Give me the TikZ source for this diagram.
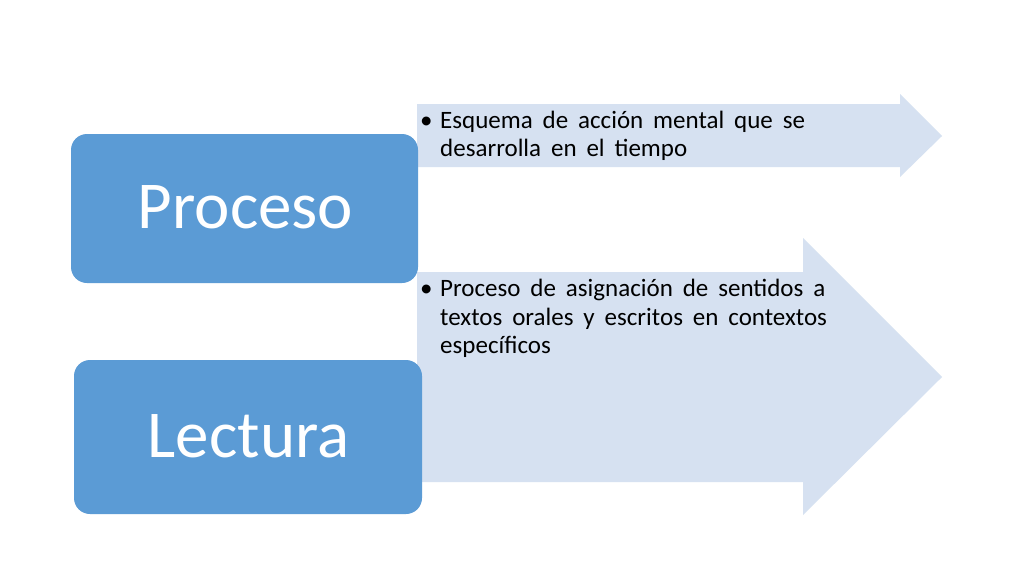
\documentclass[tikz,border=0pt]{standalone}
\usepackage{fontspec}
\setmainfont{Carlito}
\definecolor{boxblue}{HTML}{5B9BD5}
\definecolor{arrowfill}{HTML}{D6E1F1}
\newcommand{\bodyfont}{\fontsize{25}{28}\selectfont\spaceskip=9.9pt plus 0pt minus 0pt\relax}
\begin{document}
\begin{tikzpicture}[x=1pt,y=-1pt,
  catbox/.style={fill=boxblue,draw=none,rounded corners=16pt,inner sep=0pt},
  cattext/.style={text=white,font=\fontsize{67}{80}\selectfont,anchor=base,inner sep=0pt},
  bodytext/.style={text=black,font=\bodyfont,anchor=base west,inner sep=0pt},
  arrowshape/.style={fill=arrowfill,draw=none}]
\useasboundingbox (0,0) rectangle (1024,576);
\fill[white] (0,0) rectangle (1024,576);
% arrows
\fill[arrowshape] (417,104) -- (900,104) -- (900,94) -- (942,136) -- (900,177) -- (900,167) -- (417,167) -- cycle;
\fill[arrowshape] (417,272) -- (803,272) -- (803,238) -- (942,377) -- (803,515) -- (803,482) -- (417,482) -- cycle;
% boxes
\node[catbox,minimum width=347pt,minimum height=149pt] (proc) at (244.5,208.5) {};
\node[catbox,minimum width=348pt,minimum height=154pt] (lect) at (248,437) {};
\node[cattext] (proct) at (245.5,228) {Proceso};
\node[cattext] (lectt) at (248.5,457) {Lectura};
% text arrow 1
\node[bodytext] (b1) at (420,128) {•};
\node[bodytext] (a1) at (440,128) {Esquema de acción mental que se};
\node[bodytext] (a2) at (440,156.5) {desarrolla en el tiempo};
% text arrow 2
\node[bodytext] (b2) at (420,296.7) {•};
\node[bodytext] (c1) at (440,296.7) {Proceso de asignación de sentidos a};
\node[bodytext] (c2) at (440,325) {textos orales y escritos en contextos};
\node[bodytext] (c3) at (440,353.3) {específicos};
\end{tikzpicture}
\end{document}
